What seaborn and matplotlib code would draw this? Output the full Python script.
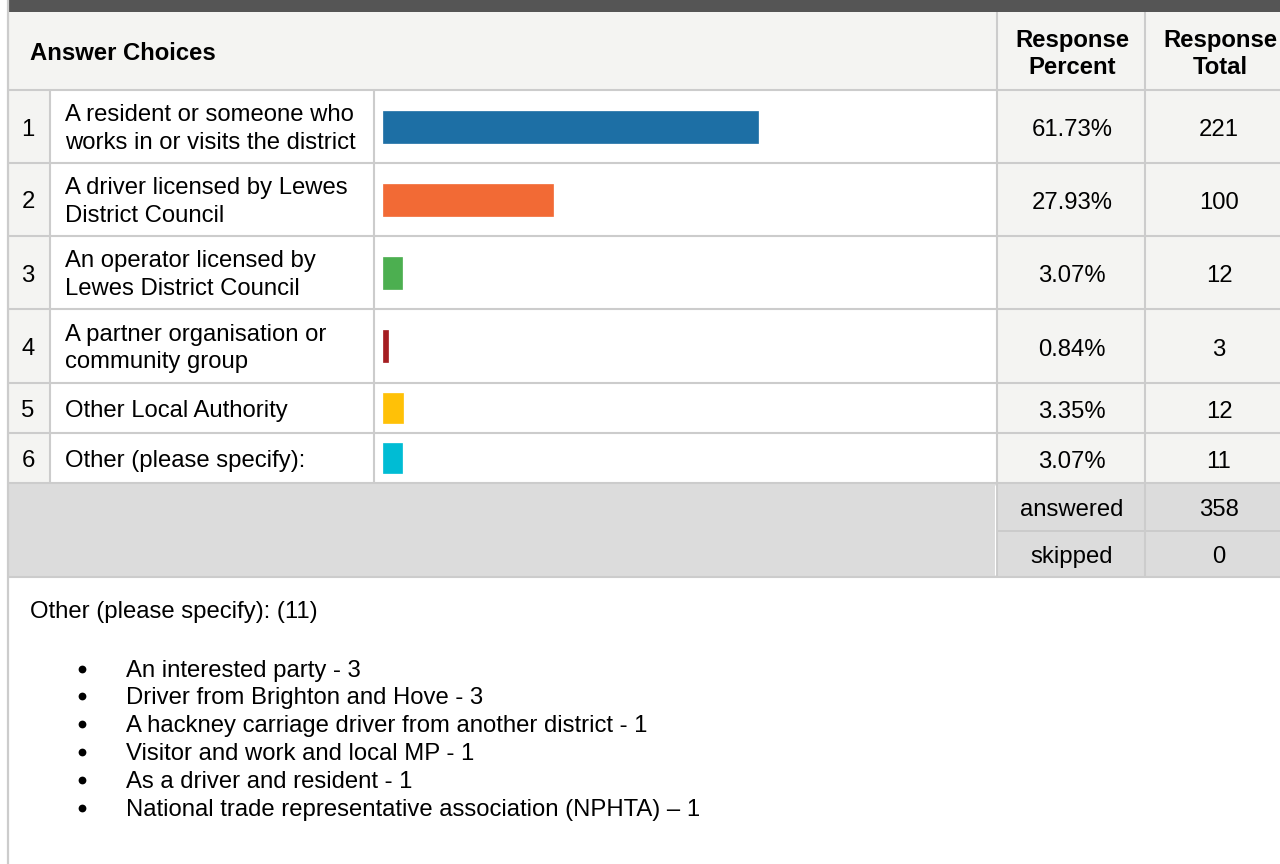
import matplotlib
matplotlib.use("Agg")
import matplotlib.pyplot as plt
import seaborn as sns
from matplotlib.patches import Rectangle

# ---------------- data ----------------
choice_numbers = ["1", "2", "3", "4", "5", "6"]
choices = [
    "A resident or someone who\nworks in or visits the district",
    "A driver licensed by Lewes\nDistrict Council",
    "An operator licensed by\nLewes District Council",
    "A partner organisation or\ncommunity group",
    "Other Local Authority",
    "Other (please specify):",
]
percents = [61.73, 27.93, 3.07, 0.84, 3.35, 3.07]
percent_labels = ["61.73%", "27.93%", "3.07%", "0.84%", "3.35%", "3.07%"]
totals = [221, 100, 12, 3, 12, 11]
bar_colors = ["#1d6fa5", "#f26a35", "#4caf50", "#a51d21", "#ffc107", "#00bcd4"]
answered = 358
skipped = 0
header_choices = "Answer Choices"
header_percent = "Response\nPercent"
header_total = "Response\nTotal"
other_title = "Other (please specify): (11)"
other_items = [
    "An interested party - 3",
    "Driver from Brighton and Hove - 3",
    "A hackney carriage driver from another district - 1",
    "Visitor and work and local MP - 1",
    "As a driver and resident - 1",
    "National trade representative association (NPHTA) \u2013 1",
]

# ---------------- style ----------------
sns.set_theme(style="white")
plt.rcParams["font.family"] = ["Liberation Sans", "DejaVu Sans"]
plt.rcParams["text.color"] = "black"
FS = 17.2
CAP_HALF = 8.5      # half cap height in px
LINE_GAP = 27.4     # px between lines of multi-line text
W, H = 1280, 864
fig = plt.figure(figsize=(W / 100, H / 100), dpi=100)
fig.patch.set_facecolor("white")

ax0 = fig.add_axes([0, 0, 1, 1])
ax0.set_xlim(0, W)
ax0.set_ylim(H, 0)
ax0.axis("off")

GRID = "#cccccc"
LIGHT = "#f4f4f2"
SUMM = "#dcdcdc"
col_x = [9, 50, 374, 997, 1145, W]
row_y = [90, 163, 236, 309, 383, 433, 483]
summ_y = [483, 531, 577]

def rect(x0, y0, x1, y1, color, z=0):
    ax0.add_patch(Rectangle((x0, y0), x1 - x0, y1 - y0, facecolor=color,
                            edgecolor="none", zorder=z))

def hline(y, x0, x1, color=GRID, lw=1.5):
    ax0.plot([x0, x1], [y, y], color=color, lw=lw, solid_capstyle="butt", zorder=2)

def vline(x, y0, y1, color=GRID, lw=1.5):
    ax0.plot([x, x], [y0, y1], color=color, lw=lw, solid_capstyle="butt", zorder=2)

def txt(x, yc, s, **kw):
    """Draw (possibly multi-line) text whose cap-height block is centred on yc."""
    lines = s.split("\n")
    n = len(lines)
    for j, line in enumerate(lines):
        ycap = yc + (j - (n - 1) / 2) * LINE_GAP
        ax0.text(x, ycap + CAP_HALF, line, fontsize=FS, va="baseline", **kw)

# top dark band
rect(9, 0, W, 12, "#555555", 1)
# header background
rect(9, 12, W, row_y[0], LIGHT)
# data rows backgrounds
rect(9, row_y[0], col_x[1], row_y[-1], LIGHT)
rect(col_x[3], row_y[0], W, row_y[-1], LIGHT)
# summary background
rect(9, summ_y[0], W, summ_y[-1], SUMM)

# grid lines
for y in row_y:
    hline(y, 9, W)
hline(summ_y[1], col_x[3], W, color="#c8c8c8", lw=1.2)
hline(summ_y[-1], 9, W)
vline(col_x[3], 12, summ_y[-1])
vline(col_x[4], 12, summ_y[-1])
vline(col_x[1], row_y[0], row_y[-1])
vline(col_x[2], row_y[0], row_y[-1])
vline(col_x[3] - 2, summ_y[0] + 2, summ_y[-1] - 2, color="white", lw=0.8)
# left border
vline(8, 0, H, color=GRID, lw=1.6)

# header text
txt(30, 51.7, header_choices, fontweight="bold", ha="left")
txt(1072, 51.7, header_percent, fontweight="bold", ha="center")
txt(1220, 51.7, header_total, fontweight="bold", ha="center")

# row text + bars
bar_px = [32, 32, 32, 32, 30, 30]
for i in range(len(choices)):
    y0, y1 = row_y[i], row_y[i + 1]
    yc = (y0 + y1) / 2 + 0.5
    txt(28, yc, choice_numbers[i], ha="center")
    txt(65, yc - 0.5, choices[i], ha="left")
    txt(1072, yc + 0.5, percent_labels[i], ha="center")
    txt(1219, yc + 0.5, str(totals[i]), ha="center")

    # bar axes: x from 383 px, 6.075 px per percent
    left = 383 / W
    width = 607.5 / W
    bottom = (H - y1 + 1) / H
    height = (y1 - y0 - 2) / H
    axb = fig.add_axes([left, bottom, width, height])
    sns.barplot(x=[percents[i]], y=[choices[i]], color=bar_colors[i],
                width=bar_px[i] / (y1 - y0 - 2), orient="h", ax=axb,
                saturation=1, edgecolor=bar_colors[i], linewidth=0.5)
    axb.set_xlim(0, 100)
    axb.set_ylim(0.5, -0.5)
    axb.axis("off")
    axb.patch.set_alpha(0)

# summary text
txt(1072, 507.5, "answered", ha="center")
txt(1219, 507.5, str(answered), ha="center")
txt(1072, 554.5, "skipped", ha="center")
txt(1219, 554.5, str(skipped), ha="center")

# other list
txt(30, 609.5, other_title, ha="left")
for k, item in enumerate(other_items):
    yy = 668 + 27.9 * k
    ax0.plot([82], [yy + 0.5], marker="o", markersize=5.6, color="black",
             markeredgewidth=0, linestyle="none", zorder=3)
    txt(126, yy, item, ha="left")

fig.savefig("out.png", dpi=100, facecolor="white")
